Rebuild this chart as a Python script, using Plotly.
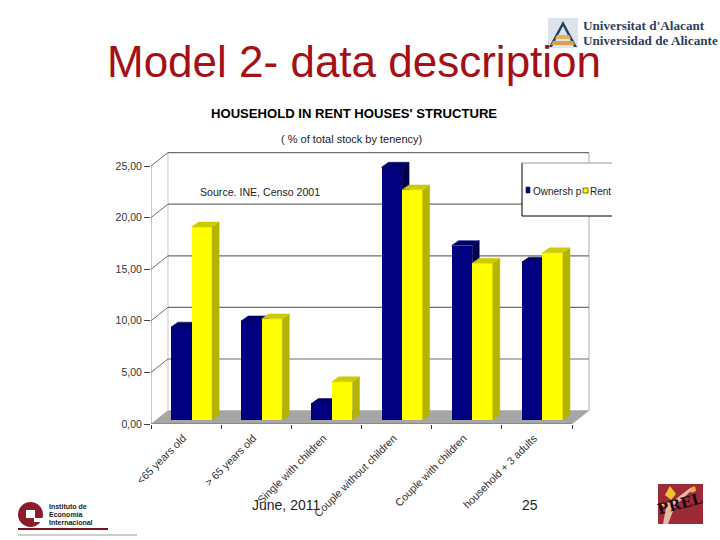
import plotly.graph_objects as go

categories = ["<65 years old", "> 65 years old", "Single with children",
              "Couple without children", "Couple with children", "household + 3 adults"]
ownership = [9.0, 9.6, 1.6, 24.5, 16.9, 15.3]
rent = [18.7, 9.8, 3.7, 22.3, 15.2, 16.2]
y_ticks = [0, 5, 10, 15, 20, 25]

FONT = "Liberation Sans"
W, H = 720, 540
L, R, T, B = 151, 612, 152, 424
XMIN, XMAX = -0.5, 6.07
YMAX = 26.36
DX, DY = 0.242, 1.3          # depth of the floor, in axis units
BX, BY = 0.07, 0.39          # where the bars stand on the floor
BW, BDX, BDY = 0.293, 0.1, 0.48  # bar width and depth
xs = list(range(len(categories)))


def px(x):
    return (x - L) / (R - L)


def py(y):
    return (B - y) / (B - T)


def poly_trace(pts, color, xa="x", ya="y"):
    return go.Scatter(x=[p[0] for p in pts] + [pts[0][0]], y=[p[1] for p in pts] + [pts[0][1]],
                      xaxis=xa, yaxis=ya, mode="lines", fill="toself", fillcolor=color,
                      line=dict(color=color, width=0.5), hoverinfo="skip", showlegend=False)


def faces(values, off, side, top, xa, ya):
    out = []
    for i, v in zip(xs, values):
        x0, x1 = i + off, i + off + BW
        y0, y1 = BY, BY + v
        out.append(poly_trace([(x1, y0), (x1 + BDX, y0 + BDY), (x1 + BDX, y1 + BDY), (x1, y1)], side, xa, ya))
        out.append(poly_trace([(x0, y1), (x1, y1), (x1 + BDX, y1 + BDY), (x0 + BDX, y1 + BDY)], top, xa, ya))
    return out


fig = go.Figure()
OFF_A, OFF_B = -0.215, 0.078
fig.add_trace(go.Bar(x=xs, y=ownership, base=BY, width=BW, offset=OFF_A, name="Ownership",
                     marker=dict(color="#000080", line_width=0), showlegend=False))
for t in faces(ownership, OFF_A, "#00004F", "#00006A", "x", "y"):
    fig.add_trace(t)
fig.add_trace(go.Bar(x=xs, y=rent, base=BY, width=BW, offset=OFF_B, name="Rent", xaxis="x2", yaxis="y2",
                     marker=dict(color="#FFFF00", line_width=0), showlegend=False))
for t in faces(rent, OFF_B, "#B3B300", "#CCCC00", "x2", "y2"):
    fig.add_trace(t)

shapes = []
# walls and floor, in axis units
x_lo, x_hi = -0.5, 5.5
shapes.append(dict(type="path", layer="below", xref="x", yref="y", fillcolor="#A6A6A6", line=dict(color="#A6A6A6", width=0.5),
                   path=f"M{x_lo},0 L{x_lo+DX},{DY} L{x_hi+DX},{DY} L{x_hi},0 Z"))
shapes.append(dict(type="line", layer="below", xref="x", yref="y", x0=x_lo + DX, x1=x_lo + DX, y0=DY, y1=25 + DY,
                   line=dict(color="#C8C8C8", width=1)))
shapes.append(dict(type="line", layer="below", xref="x", yref="y", x0=x_hi + DX, x1=x_hi + DX, y0=DY, y1=25 + DY,
                   line=dict(color="#B0B0B0", width=1)))
shapes.append(dict(type="line", layer="below", xref="x", yref="y", x0=x_lo, x1=x_lo, y0=0, y1=25,
                   line=dict(color="#A0A0A0", width=1.2)))
for v in y_ticks:
    if v:
        shapes.append(dict(type="line", layer="below", xref="x", yref="y", x0=x_lo + DX, x1=x_hi + DX, y0=v + DY, y1=v + DY,
                           line=dict(color="#6E6E6E", width=1.2)))
        shapes.append(dict(type="line", layer="below", xref="x", yref="y", x0=x_lo, x1=x_lo + DX, y0=v, y1=v + DY,
                           line=dict(color="#6E6E6E", width=1)))
shapes.append(dict(type="line", layer="below", xref="x", yref="y", x0=x_lo, x1=x_hi, y0=0, y1=0,
                   line=dict(color="#707070", width=1)))


def rect(x0, y0, x1, y1, fill, line=None, lw=0):
    shapes.append(dict(type="rect", xref="paper", yref="paper", x0=px(x0), x1=px(x1), y0=py(y0), y1=py(y1),
                       fillcolor=fill, line=dict(color=line or fill, width=lw), layer="above"))


def seg(x0, y0, x1, y1, color, lw=1):
    shapes.append(dict(type="line", xref="paper", yref="paper", x0=px(x0), x1=px(x1), y0=py(y0), y1=py(y1),
                       line=dict(color=color, width=lw), layer="above"))


def path(points, fill, line=None, lw=0):
    d = "M" + " L".join(f"{px(a):.4f},{py(b):.4f}" for a, b in points) + " Z"
    shapes.append(dict(type="path", xref="paper", yref="paper", path=d, fillcolor=fill,
                       line=dict(color=line or fill, width=lw), layer="above"))


# legend box, cut by the right edge of the chart picture
rect(522, 163, 612, 216, "white")
seg(522, 163, 522, 216, "#000000")
seg(522, 163, 612, 163, "#999999")
seg(522, 216, 612, 216, "#000000")
rect(526, 187, 530, 193, "#000080", "#000040", 0.5)
rect(583, 188, 588, 193, "#FFFF00", "#333300", 0.7)

# University logo
rect(548, 18, 578, 48, "#DCE3EA")
path([(563, 21), (549, 47), (552, 47), (563, 26), (574, 47), (577, 47)], "#24405F")
path([(557, 35), (569, 35), (571, 39), (555, 39)], "#E4B25A")
path([(553, 41), (573, 41), (575, 45), (551, 45)], "#D9A24A")

# Instituto logo
shapes.append(dict(type="circle", xref="paper", yref="paper", x0=px(18), x1=px(43), y0=py(527), y1=py(502),
                   fillcolor="#8A1C2B", line=dict(width=0), layer="above"))
rect(26, 510, 35, 518, "white")
rect(34, 518, 44, 522, "white")
seg(18, 529, 108, 529, "#7A1020", 2)
seg(18, 535, 137, 535, "#999999", 1)

# Right logo
rect(658, 484, 703, 524, "#9E2A38")
path([(665, 495), (670, 486), (676, 494), (671, 500)], "#F2C230")
path([(690, 488), (695, 486), (696, 491), (691, 493)], "#EDB04A")
path([(660, 504), (672, 502), (690, 488), (692, 490), (675, 506), (668, 524), (663, 524), (666, 508)], "#E9B9A8")

anns = []


def text(x, y, s, size, color="#000000", anchor="center", family=FONT, bold=False, angle=0):
    anns.append(dict(x=px(x), y=py(y), xref="paper", yref="paper", text=f"<b>{s}</b>" if bold else s,
                     showarrow=False, xanchor=anchor, yanchor="middle", textangle=angle,
                     font=dict(family=family, size=size, color=color)))


text(354, 61, "Model 2- data description", 44, "#A50F15")
text(354, 113, "HOUSEHOLD IN RENT HOUSES' STRUCTURE", 13.1, bold=True)
text(351, 139, "( % of total stock by tenency)", 11, "#222222")
text(260, 192, "Source. INE, Censo 2001", 10.6, "#222222")
text(531, 191, "Ownersh p", 10, "#222222", anchor="left")
text(588, 191, "Rent", 10, "#222222", anchor="left")
text(286, 505, "June, 2011", 14, "#222222")
text(530, 505, "25", 14, "#222222")
text(581, 25, "Universitat d'Alacant", 13.2, "#2B3F5C", anchor="left", family="Liberation Serif", bold=True)
text(581, 41, "Universidad de Alicante", 13.2, "#2B3F5C", anchor="left", family="Liberation Serif", bold=True)
text(47, 506, "Instituto de", 7, "#222222", anchor="left", bold=True)
text(47, 514, "Economía", 7, "#222222", anchor="left", bold=True)
text(47, 522, "Internacional", 7, "#222222", anchor="left", bold=True)
text(680, 504, "PREL", 15, "#1A0A10", family="DejaVu Serif", bold=True, angle=-15)

common_x = dict(range=[XMIN, XMAX], domain=[0, 1], showgrid=False, zeroline=False)
common_y = dict(range=[0, YMAX], domain=[0, 1], showgrid=False, zeroline=False)
boundaries = [i - 0.5 for i in range(len(categories) + 1)]

fig.update_layout(
    width=W, height=H, autosize=False,
    margin=dict(l=L, r=W - R, t=T, b=H - B, pad=0),
    paper_bgcolor="white", plot_bgcolor="white",
    separators=",.", showlegend=False, bargap=0,
    font=dict(family=FONT, color="#222222"),
    shapes=shapes, annotations=anns,
    xaxis=dict(**common_x, tickmode="array", tickvals=xs, ticktext=categories, tickangle=-45,
               ticks="", showline=False, tickfont=dict(family=FONT, size=10.7, color="#333333"),
               ticklabelstandoff=5, ticklabelshift=-3,
               minor=dict(tickmode="array", tickvals=boundaries, ticks="outside", ticklen=4,
                          tickcolor="#333333", tickwidth=1, showgrid=False)),
    yaxis=dict(**common_y, tickmode="array", tickvals=y_ticks, tickformat=".2f", ticks="outside", ticklen=6,
               tickcolor="#444444", showline=False, tickfont=dict(family=FONT, size=10.5, color="#333333")),
    xaxis2=dict(**common_x, overlaying="x", anchor="y2", visible=False),
    yaxis2=dict(**common_y, overlaying="y", anchor="x2", visible=False),
)

fig.write_html("out.html", config=dict(displayModeBar=False), default_width=f"{W}px", default_height=f"{H}px",
               post_script="document.body.style.margin='0';document.body.style.overflow='hidden';")
